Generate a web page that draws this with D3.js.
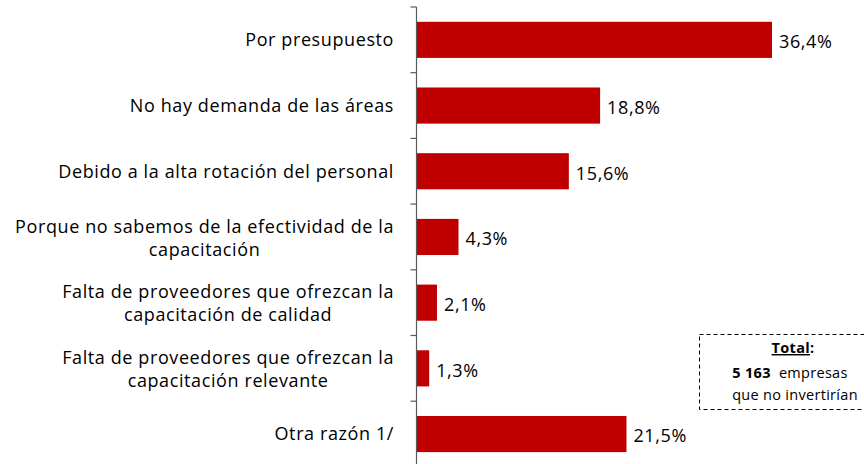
<!DOCTYPE html>
<html>
<head>
<meta charset="utf-8">
<script src="https://cdn.jsdelivr.net/npm/d3@7"></script>
<style>
  body { margin: 0; background: #fff; }
  svg text { font-family: "Open Sans", Calibri, sans-serif; fill: #000; }
  .cat, .val { font-size: 18px; letter-spacing: 0.6px; }
  .box text { font-size: 14.5px; letter-spacing: 0.3px; white-space: pre; }
</style>
</head>
<body>
<svg id="chart" width="864" height="464"></svg>
<script>
var categories = [
    ['Por presupuesto'],
    ['No hay demanda de las áreas'],
    ['Debido a la alta rotación del personal'],
    ['Porque no sabemos de la efectividad de la', 'capacitación'],
    ['Falta de proveedores que ofrezcan la', 'capacitación de calidad'],
    ['Falta de proveedores que ofrezcan la', 'capacitación relevante'],
    ['Otra razón 1/']
];
var values = [36.4, 18.8, 15.6, 4.3, 2.1, 1.3, 21.5];
var valueLabels = ['36,4%', '18,8%', '15,6%', '4,3%', '2,1%', '1,3%', '21,5%'];

var svg = d3.select('#chart');
var axisX = 416.5, axisTop = 7;
var step = 65.7;

var y = d3.scaleBand()
    .domain(d3.range(categories.length))
    .range([axisTop, axisTop + step * categories.length])
    .paddingInner(0.45)
    .paddingOuter(0.225);

var x = d3.scaleLinear().domain([0, 36.4]).range([axisX, 772]);

// title, mostly cut off at top
svg.append('text')
    .attr('x', 430).attr('y', -4)
    .attr('text-anchor', 'middle')
    .style('font-size', '16px')
    .text('(Distribución porcentual) (Porcentaje y empresas)');

svg.selectAll('rect.bar')
    .data(values)
    .enter()
    .append('rect')
    .attr('class', 'bar')
    .attr('x', x(0))
    .attr('y', function(d, i) { return y(i); })
    .attr('width', function(d) { return x(d) - x(0); })
    .attr('height', y.bandwidth())
    .style('fill', '#C00000');

svg.selectAll('text.val')
    .data(values)
    .enter()
    .append('text')
    .attr('class', 'val')
    .attr('x', function(d) { return x(d) + 7; })
    .attr('y', function(d, i) { return y(i) + y.bandwidth() / 2 + 2; })
    .attr('dy', '0.35em')
    .text(function(d, i) { return valueLabels[i]; });

// category labels: right edge at 394, multi-line blocks centred
var labelRight = 394, lh = 23;
svg.selectAll('g.catg')
    .data(categories)
    .enter()
    .append('g')
    .attr('class', 'catg')
    .each(function(lines, i) {
        var g = d3.select(this);
        var cy = y(i) + y.bandwidth() / 2 + (lines.length > 1 ? 1 : 0);
        var texts = lines.map(function(s, j) {
            return g.append('text')
                .attr('class', 'cat')
                .attr('y', cy + (j - (lines.length - 1) / 2) * lh)
                .attr('dy', '0.35em')
                .attr('text-anchor', 'middle')
                .text(s);
        });
        var w = d3.max(texts, function(t) { return t.node().getComputedTextLength(); });
        texts.forEach(function(t) { t.attr('x', labelRight - w / 2); });
    });

// axis line with ticks at band boundaries
var axis = svg.append('g').attr('stroke', '#595959').attr('stroke-width', 1.2);
axis.append('line')
    .attr('x1', axisX).attr('x2', axisX)
    .attr('y1', axisTop).attr('y2', 464);
d3.range(categories.length + 1).forEach(function(i) {
    var yy = axisTop + i * step;
    axis.append('line')
        .attr('x1', axisX - 6).attr('x2', axisX)
        .attr('y1', yy).attr('y2', yy);
});

// total box
var box = svg.append('g').attr('class', 'box');
box.append('rect')
    .attr('x', 699.5).attr('y', 334.5)
    .attr('width', 180).attr('height', 75)
    .style('fill', 'none')
    .style('stroke', '#000')
    .style('stroke-width', 1)
    .style('stroke-dasharray', '4,3');
box.append('text')
    .attr('x', 793).attr('y', 353)
    .attr('text-anchor', 'middle')
    .style('font-weight', 'bold')
    .html('<tspan text-decoration="underline">Total</tspan>:');
box.append('text')
    .attr('x', 790).attr('y', 378)
    .attr('text-anchor', 'middle')
    .html('<tspan font-weight="bold">5 163</tspan>  empresas');
box.append('text')
    .attr('x', 795).attr('y', 400)
    .attr('text-anchor', 'middle')
    .text('que no invertirían');
</script>
</body>
</html>
